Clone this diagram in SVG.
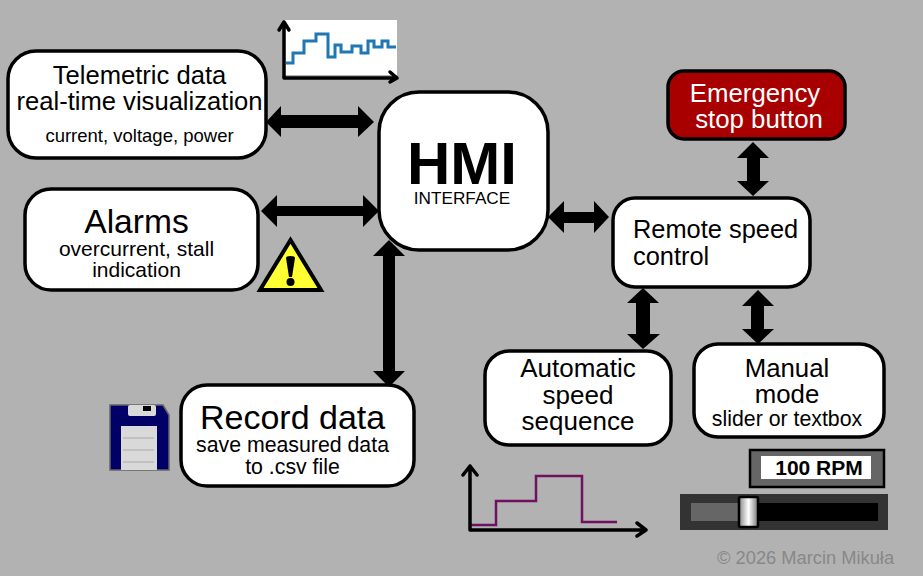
<svg xmlns="http://www.w3.org/2000/svg" width="923" height="576" viewBox="0 0 923 576">
<style>
text{font-family:"Liberation Sans",Arial,sans-serif;fill:#000}
.box{fill:#fff;stroke:#000;stroke-width:3.5}
.arr{fill:#000;stroke:none}
.ax{fill:none;stroke:#000;stroke-width:3.5;stroke-linecap:round;stroke-linejoin:round}
.m{text-anchor:middle}
</style>
<rect width="923" height="576" fill="#b2b2b2"/>
<g id="connectors">
<path class="arr" d="M266 122 L281 106 V115 H358 V106 L374 122 L358 137 V128 H281 V137 Z"/>
<path class="arr" d="M261 211 L277 195 V206 H363 V195 L379 211 L363 227 V216 H277 V227 Z"/>
<path class="arr" d="M389 240 L405 256 H395 V371 H405 L389 387 L373 371 H383 V256 H373 Z"/>
<path class="arr" d="M548 217 L564 201 V212 H594 V201 L609 217 L594 233 V223 H564 V233 Z"/>
<path class="arr" d="M753 142 L769 158 H760 V181 H769 L753 196 L737 181 H747 V158 H737 Z"/>
<path class="arr" d="M643 288 L659 303 H650 V334 H660 L643 349 L627 334 H636 V303 H627 Z"/>
<path class="arr" d="M758 290 L774 306 H764 V329 H774 L758 344 L742 329 H751 V306 H742 Z"/>
</g>
<g id="telemetry-node">
<rect class="box" x="8" y="51" width="258" height="107" rx="28"/>
<text class="m" x="139.500" y="84" font-size="25.600">Telemetric data</text>
<text class="m" x="139.500" y="110" font-size="25.600">real-time visualization</text>
<text class="m" x="139.500" y="142" font-size="18.500">current, voltage, power</text>
</g>
<g id="telemetry-chart">
<rect x="284" y="20" width="113" height="55" fill="#fff"/>
<path fill="none" stroke="#1f77b4" stroke-width="3" d="M286 63 H293 V53 H304 V41 H316 V34 H328 V57 H335 V45 H341 V52 H352 V46 H361 V53 H368 V41 H374 V47 H382 V41 H388 V47 H396"/>
<path class="ax" d="M284 22 V78 H397 M279 30 L284 22 L289 30 M390 72 L397 78 L390 82"/>
</g>
<g id="alarms-node">
<rect class="box" x="25" y="189" width="233" height="101" rx="26"/>
<text class="m" x="136.500" y="233" font-size="33.600">Alarms</text>
<text class="m" x="136.500" y="256" font-size="21">overcurrent, stall</text>
<text class="m" x="136.500" y="277" font-size="21">indication</text>
</g>
<g id="warning-icon">
<path d="M290.500 240 L321 290 H260 Z" fill="#ffff33" stroke="#000" stroke-width="4" stroke-linejoin="miter"/>
<path d="M286 258 Q286 256 290.500 256 Q295 256 295 258 L292 277 H289 Z" fill="#000"/>
<circle cx="290.500" cy="282" r="4" fill="#000"/>
</g>
<g id="hmi-node">
<rect class="box" x="379" y="92" width="169" height="158" rx="40" stroke-width="4"/>
<text class="m" x="462" y="184" font-size="60" font-weight="bold">HMI</text>
<text class="m" x="462" y="204" font-size="17.200">INTERFACE</text>
</g>
<g id="record-node">
<rect class="box" x="181" y="385" width="233" height="101" rx="26"/>
<text x="200" y="429" font-size="34">Record data</text>
<text class="m" x="292.500" y="452" font-size="21.300">save measured data</text>
<text class="m" x="292.500" y="474" font-size="21.300">to .csv file</text>
</g>
<g id="floppy-icon">
<path d="M110 405 H163 L169 415 V470 H110 Z" fill="#000066" stroke="#666" stroke-width="1.500"/>
<rect x="128" y="405" width="28" height="11" rx="2" fill="#d9d9d9"/>
<rect x="143" y="406" width="8" height="5" fill="#000"/>
<rect x="121" y="426" width="36" height="44" fill="#d9d9d9"/>
<path d="M123 438 H154 M123 450 H154 M123 462 H154" stroke="#aaa" stroke-width="1"/>
</g>
<g id="emergency-node">
<rect x="668" y="71" width="177" height="68" rx="16" fill="#a80000" stroke="#000" stroke-width="3.500"/>
<text class="m" x="755" y="102" font-size="25.800" style="fill:#fff">Emergency</text>
<text class="m" x="759" y="128" font-size="25.800" style="fill:#fff">stop button</text>
</g>
<g id="remote-node">
<rect class="box" x="613" y="198" width="197" height="89" rx="22"/>
<text x="633" y="238" font-size="25.400">Remote speed</text>
<text x="633" y="265" font-size="25.400">control</text>
</g>
<g id="auto-node">
<rect class="box" x="485" y="351" width="186" height="94" rx="24"/>
<text class="m" x="578" y="377" font-size="26">Automatic</text>
<text class="m" x="578" y="404" font-size="26">speed</text>
<text class="m" x="578" y="430" font-size="26">sequence</text>
</g>
<g id="manual-node">
<rect class="box" x="694" y="344" width="190" height="93" rx="24"/>
<text class="m" x="787" y="377" font-size="25.800">Manual</text>
<text class="m" x="787" y="403" font-size="25.800">mode</text>
<text class="m" x="787" y="426" font-size="21.300">slider or textbox</text>
</g>
<g id="sequence-chart">
<path d="M471 525 H496 V501 H536 V476 H582 V522 H617" fill="none" stroke="#701060" stroke-width="2.500"/>
<path class="ax" d="M463 475 L470 466 L477 475 M470 466 V530 H646 M637 523 L646 530 L637 536"/>
</g>
<g id="rpm-display">
<rect x="750" y="450" width="134" height="37" fill="#666" stroke="#000" stroke-width="2.500"/>
<rect x="761" y="456" width="110" height="23" fill="#fff"/>
<text class="m" x="819" y="475" font-size="21" font-weight="bold">100 RPM</text>
</g>
<g id="slider">
<defs><linearGradient id="knob"><stop offset="0" stop-color="#888"/><stop offset=".5" stop-color="#fff"/><stop offset="1" stop-color="#777"/></linearGradient></defs>
<rect x="680" y="494" width="208" height="36" fill="#333"/>
<rect x="691" y="503" width="60" height="18" fill="#666"/>
<rect x="751" y="503" width="127" height="18" fill="#000"/>
<rect x="739" y="497" width="19" height="30" rx="1.500" fill="url(#knob)" stroke="#000" stroke-width="2.500"/>
</g>
<text x="717" y="564" font-size="18.300" style="fill:#888">© 2026 Marcin Mikuła</text>
</svg>
